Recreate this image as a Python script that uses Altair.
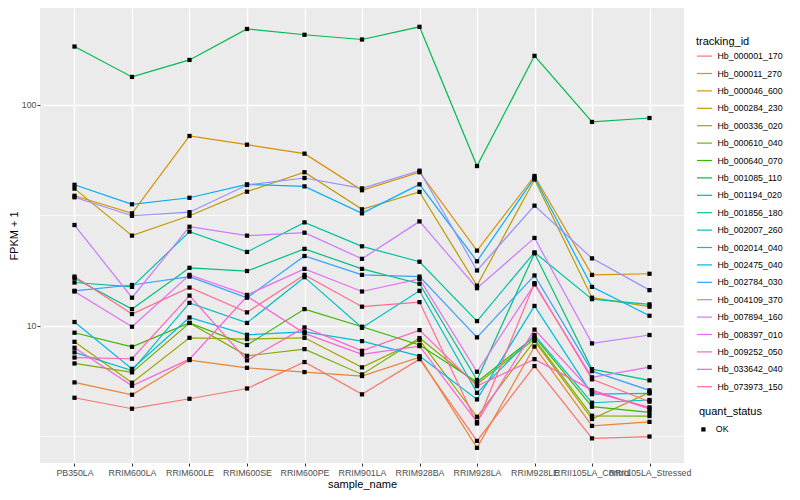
import altair as alt
import pandas as pd

SAMPLES = ["PB350LA", "RRIM600LA", "RRIM600LE", "RRIM600SE", "RRIM600PE", "RRIM901LA",
           "RRIM928BA", "RRIM928LA", "RRIM928LE", "RRII105LA_Control", "RRII105LA_Stressed"]

IDS = ["Hb_000001_170", "Hb_000011_270", "Hb_000046_600", "Hb_000284_230", "Hb_000336_020",
       "Hb_000610_040", "Hb_000640_070", "Hb_001085_110", "Hb_001194_020", "Hb_001856_180",
       "Hb_002007_260", "Hb_002014_040", "Hb_002475_040", "Hb_002784_030", "Hb_004109_370",
       "Hb_007894_160", "Hb_008397_010", "Hb_009252_050", "Hb_033642_040", "Hb_073973_150"]

COLORS = ["#F8766D", "#EA8331", "#D89000", "#C09B00", "#A3A500", "#7CAE00", "#39B600",
          "#00BB4E", "#00BF7D", "#00C1A3", "#00BFC4", "#00BAE0", "#00B0F6", "#35A2FF",
          "#9590FF", "#C77CFF", "#E76BF3", "#FA62DB", "#FF62BC", "#FF6C91"]

# FPKM + 1 per sample (order of SAMPLES)
Hb_000001_170 = [4.72, 4.21, 4.67, 5.20, 6.85, 4.89, 7.06, 3.01, 6.57, 3.09, 3.15]
Hb_000011_270 = [5.54, 4.87, 6.99, 6.45, 6.17, 5.92, 7.21, 2.80, 8.05, 3.52, 3.67]
Hb_000046_600 = [38.8, 32.3, 72.4, 66.1, 60.2, 41.1, 49.6, 21.9, 47.7, 17.0, 17.2]
Hb_000284_230 = [41.8, 25.6, 31.5, 40.5, 49.6, 33.7, 40.4, 15.2, 46.0, 13.4, 12.2]
Hb_000336_020 = [8.46, 5.52, 8.82, 8.70, 8.82, 6.48, 8.61, 3.87, 8.55, 3.78, 4.99]
Hb_000610_040 = [6.75, 6.15, 10.3, 7.31, 7.84, 6.02, 8.80, 5.44, 8.70, 3.91, 3.90]
Hb_000640_070 = [9.30, 8.03, 10.3, 8.18, 11.9, 9.90, 8.18, 5.56, 8.92, 4.30, 4.05]
Hb_001085_110 = [184, 134, 160, 221, 208, 198, 226, 52.9, 167, 83.8, 87.3]
Hb_001194_020 = [16.4, 11.9, 18.3, 17.7, 22.3, 18.1, 15.5, 5.68, 21.3, 6.36, 5.66]
Hb_001856_180 = [15.7, 15.0, 26.7, 21.6, 29.4, 22.9, 19.5, 10.5, 21.5, 13.2, 12.5]
Hb_002007_260 = [7.58, 6.27, 12.7, 10.3, 16.6, 9.79, 14.4, 4.97, 9.08, 4.48, 4.61]
Hb_002014_040 = [10.4, 6.38, 10.9, 9.10, 9.39, 8.52, 7.29, 4.64, 12.3, 4.90, 4.94]
Hb_002475_040 = [43.5, 35.5, 38.0, 43.7, 42.8, 32.3, 43.7, 19.6, 46.9, 15.0, 11.1]
Hb_002784_030 = [14.4, 15.3, 16.7, 13.4, 20.7, 17.0, 16.7, 8.86, 16.9, 6.23, 5.10]
Hb_004109_370 = [38.2, 31.5, 32.7, 43.4, 46.7, 41.9, 50.4, 17.8, 35.0, 20.2, 14.5]
Hb_007894_160 = [28.6, 13.4, 28.1, 25.6, 26.4, 20.1, 29.7, 14.8, 25.0, 8.32, 9.08]
Hb_008397_010 = [14.3, 9.90, 17.0, 13.8, 18.1, 14.3, 16.3, 6.19, 15.4, 5.84, 6.50]
Hb_009252_050 = [7.95, 5.35, 7.06, 13.6, 9.24, 7.42, 8.09, 3.67, 9.61, 5.02, 4.27]
Hb_033642_040 = [7.18, 7.09, 13.7, 6.97, 9.83, 7.70, 9.56, 5.33, 7.06, 5.11, 4.20]
Hb_073973_150 = [16.7, 11.3, 14.9, 11.5, 17.0, 12.2, 12.8, 3.61, 15.6, 5.72, 4.53]

SERIES = [Hb_000001_170, Hb_000011_270, Hb_000046_600, Hb_000284_230, Hb_000336_020,
          Hb_000610_040, Hb_000640_070, Hb_001085_110, Hb_001194_020, Hb_001856_180,
          Hb_002007_260, Hb_002014_040, Hb_002475_040, Hb_002784_030, Hb_004109_370,
          Hb_007894_160, Hb_008397_010, Hb_009252_050, Hb_033642_040, Hb_073973_150]

Y_MAJOR = [10, 100]
Y_MINOR = [3.1623, 31.623]
Y_DOMAIN = [2.39, 275]

rows = []
for tid, vals in zip(IDS, SERIES):
    for s, v in zip(SAMPLES, vals):
        rows.append({"tracking_id": tid, "sample_name": s, "fpkm": v, "quant_status": "OK"})
df = pd.DataFrame(rows)

major_test = "datum.value == 10 || datum.value == 100"

x_enc = alt.X("sample_name:N", sort=SAMPLES,
              scale=alt.Scale(type="point", padding=0.6),
              axis=alt.Axis(title="sample_name", labelAngle=0, labelOverlap=False,
                            labelFontSize=8.8, labelColor="#4D4D4D", labelPadding=2,
                            tickColor="#333333", tickSize=3, tickWidth=1,
                            domain=False, grid=True, gridColor="white", gridWidth=1.4,
                            titleFontSize=11, titleFontWeight="normal", titleColor="black",
                            titlePadding=2))
y_enc = alt.Y("fpkm:Q",
              scale=alt.Scale(type="log", domain=Y_DOMAIN, nice=False),
              axis=alt.Axis(title="FPKM + 1", values=sorted(Y_MAJOR + Y_MINOR), format="d",
                            labelExpr="(" + major_test + ") ? datum.label : ''",
                            labelOverlap=False, labelFontSize=8.8, labelColor="#4D4D4D",
                            labelPadding=1,
                            tickColor="#333333", tickSize=3, tickWidth=1,
                            tickOpacity={"condition": {"test": major_test, "value": 1}, "value": 0},
                            domain=False, grid=True, gridColor="white",
                            gridWidth={"condition": {"test": major_test, "value": 1.4}, "value": 0.7},
                            titleFontSize=11, titleFontWeight="normal", titleColor="black",
                            titlePadding=1.5))

lines = alt.Chart(df).mark_line(strokeWidth=1.2).encode(
    x=x_enc, y=y_enc,
    color=alt.Color("tracking_id:N", scale=alt.Scale(domain=IDS, range=COLORS),
                    legend=alt.Legend(title="tracking_id", orient="none", legendX=656, legendY=28,
                                      symbolType="stroke", symbolStrokeWidth=1.2, symbolSize=225,
                                      symbolOpacity=1, labelFontSize=8.8, labelColor="black",
                                      titleFontSize=11, titleFontWeight="normal", titleColor="black",
                                      titlePadding=0.6, rowPadding=3.4, labelOffset=4.5)),
    detail="tracking_id:N",
)

points = alt.Chart(df).mark_point(filled=True, size=18, color="black", opacity=1).encode(
    x=x_enc, y=y_enc,
    shape=alt.Shape("quant_status:N", scale=alt.Scale(domain=["OK"], range=["square"]),
                    legend=alt.Legend(title="quant_status", orient="none", legendX=659, legendY=398,
                                      symbolSize=18, symbolFillColor="black", symbolStrokeColor="black",
                                      symbolOpacity=1, labelFontSize=8.8, labelColor="black",
                                      titleFontSize=11, titleFontWeight="normal", titleColor="black",
                                      titlePadding=8, labelOffset=8)),
)

chart = alt.layer(lines, points).properties(
    width=644, height=455,
    autosize=alt.AutoSizeParams(type="none"),
    padding={"left": 32, "top": 0, "right": 108, "bottom": 29},
).configure(
    font="Liberation Sans", background="white",
).configure_view(fill="#EBEBEB", stroke=None)

chart.save("out.html", embed_options={"renderer": "svg", "actions": False})
